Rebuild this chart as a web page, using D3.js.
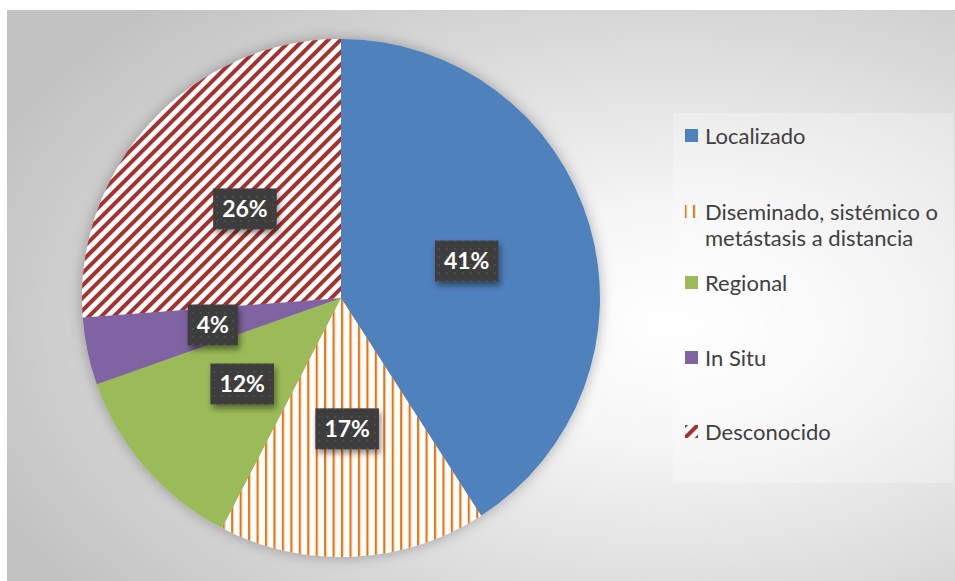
<!DOCTYPE html>
<meta charset="utf-8">
<style>
body { margin: 0; background: #fff; }
svg { display: block; }
.lbl text { font: bold 23px Lato, "Open Sans", sans-serif; fill: #fff; text-anchor: middle; }
.legend text { font: 22px Lato, "Open Sans", sans-serif; fill: #404040; }
</style>
<svg width="955" height="581"></svg>
<script src="https://cdnjs.cloudflare.com/ajax/libs/d3/7.8.5/d3.min.js"></script>
<script>
// data
var categories = ["Localizado", "Diseminado, sistémico o metástasis a distancia", "Regional", "In Situ", "Desconocido"];
var values = [40.9, 16.7, 12.0, 4.2, 26.2];
var legendLines = [["Localizado"], ["Diseminado, sistémico o", "metástasis a distancia"], ["Regional"], ["In Situ"], ["Desconocido"]];
var fills = ["#4f81bd", "url(#vstripe)", "#9bbb59", "#8064a2", "url(#dstripe)"];

var svg = d3.select("svg"),
    width = +svg.attr("width"),
    height = +svg.attr("height");

var defs = svg.append("defs");

var bg = defs.append("radialGradient").attr("id", "bg")
    .attr("cx", 0.7).attr("cy", 0.55).attr("r", 0.78);
bg.append("stop").attr("offset", 0).attr("stop-color", "#ffffff");
bg.append("stop").attr("offset", 0.25).attr("stop-color", "#f6f6f6");
bg.append("stop").attr("offset", 1).attr("stop-color", "#c2c2c2");

// vertical orange stripes
var vs = defs.append("pattern").attr("id", "vstripe")
    .attr("patternUnits", "userSpaceOnUse").attr("width", 8.45).attr("height", 10);
vs.append("rect").attr("width", 8.45).attr("height", 10).attr("fill", "#fff");
vs.append("rect").attr("x", 0).attr("width", 2.2).attr("height", 10).attr("fill", "#ee7511");

// diagonal red stripes
var ds = defs.append("pattern").attr("id", "dstripe")
    .attr("patternUnits", "userSpaceOnUse").attr("width", 8.8).attr("height", 10)
    .attr("patternTransform", "rotate(45)");
ds.append("rect").attr("width", 8.8).attr("height", 10).attr("fill", "#fff");
ds.append("rect").attr("width", 4).attr("height", 10).attr("fill", "#a3302e");

// dotted dark label fill
var dp = defs.append("pattern").attr("id", "dots")
    .attr("patternUnits", "userSpaceOnUse").attr("width", 8).attr("height", 8);
dp.append("rect").attr("width", 8).attr("height", 8).attr("fill", "#3d3d3d");
dp.append("rect").attr("x", 3).attr("y", 3).attr("width", 2).attr("height", 2).attr("fill", "#4e4e4e");

var sh = defs.append("filter").attr("id", "pieShadow")
    .attr("x", "-20%").attr("y", "-20%").attr("width", "140%").attr("height", "140%");
sh.append("feDropShadow").attr("dx", 0).attr("dy", 0).attr("stdDeviation", 7)
    .attr("flood-color", "#000").attr("flood-opacity", 0.3);

var lsh = defs.append("filter").attr("id", "lblShadow")
    .attr("x", "-30%").attr("y", "-30%").attr("width", "160%").attr("height", "170%");
lsh.append("feDropShadow").attr("dx", 2).attr("dy", 4).attr("stdDeviation", 3)
    .attr("flood-color", "#000").attr("flood-opacity", 0.45);

// chart frame
svg.append("rect").attr("x", 7).attr("y", 10).attr("width", width - 7).attr("height", height - 10)
    .attr("fill", "url(#bg)");

// legend panel
svg.append("rect").attr("x", 673).attr("y", 113).attr("width", 280).attr("height", 370)
    .attr("fill", "#fff").attr("opacity", 0.25);

var radius = 259,
    g = svg.append("g").attr("transform", "translate(341,298)");

var pie = d3.pie().sort(null).value(function(d) { return d; });
var arcs = pie(values);

var path = d3.arc().outerRadius(radius).innerRadius(0);
var label = d3.arc().outerRadius(131).innerRadius(131);

g.append("g").attr("filter", "url(#pieShadow)")
  .selectAll("path")
  .data(arcs)
  .enter().append("path")
    .attr("d", path)
    .attr("fill", function(d, i) { return fills[i]; });

var total = d3.sum(values);
var lbl = g.selectAll(".lbl")
  .data(arcs)
  .enter().append("g")
    .attr("class", "lbl")
    .attr("transform", function(d) { return "translate(" + label.centroid(d) + ")"; });

lbl.append("rect")
    .attr("filter", "url(#lblShadow)")
    .attr("fill", "url(#dots)");
lbl.append("text")
    .attr("dy", "0.36em")
    .text(function(d) { return Math.round(d.value / total * 100) + "%"; });
lbl.each(function() {
  var t = d3.select(this).select("text").node().getComputedTextLength();
  d3.select(this).select("rect")
    .attr("x", -t / 2 - 9).attr("y", -20.5)
    .attr("width", t + 18).attr("height", 41);
});

// legend
var legendY = [136, 212, 283, 358, 432];
var leg = svg.append("g").attr("class", "legend");
categories.forEach(function(c, i) {
  leg.append("rect").attr("x", 685).attr("y", legendY[i] - 7)
    .attr("width", 13).attr("height", 13).attr("fill", fills[i]);
  var t = leg.append("text").attr("x", 705).attr("y", legendY[i]);
  legendLines[i].forEach(function(s, j) {
    t.append("tspan").attr("x", 705).attr("dy", j === 0 ? "0.35em" : 26).text(s);
  });
});
</script>
